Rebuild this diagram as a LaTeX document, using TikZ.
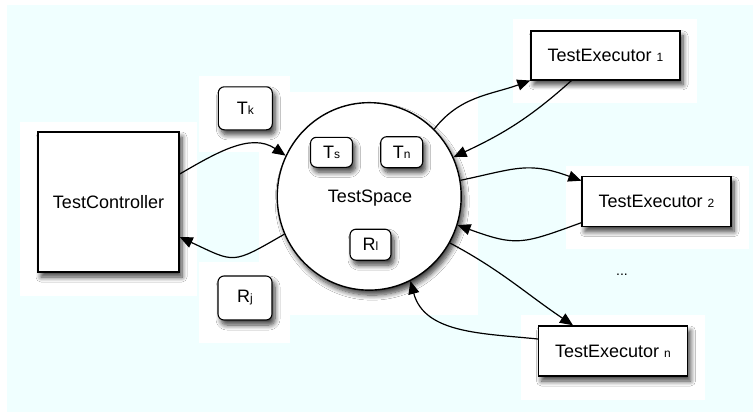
\documentclass[tikz,border=0pt]{standalone}
\usepackage{fontspec}
\setmainfont{Liberation Sans}
\usetikzlibrary{arrows.meta,shapes.geometric,shadows.blur}
\definecolor{bgcyan}{HTML}{F0FFFF}
\newcommand{\sub}[1]{{\fontsize{12}{12}\selectfont #1}}
\tikzset{
  shd/.style={blur shadow={shadow xshift=3pt,shadow yshift=-5pt,shadow blur steps=8,shadow blur radius=5pt,shadow opacity=75}},
  bigbox/.style={draw,line width=1.4pt,fill=white,rectangle,inner sep=0pt,shd},
  token/.style={draw,line width=1.1pt,fill=white,rectangle,rounded corners=6pt,inner sep=0pt,shd},
  conn/.style={line width=1.2pt,-{Triangle[length=13pt,width=11pt]}},
  patch/.style={fill=white,draw=none},
  lbl/.style={font=\fontsize{18}{18}\selectfont}
}
\begin{document}
\begin{tikzpicture}[x=1pt,y=-1pt]
\useasboundingbox (0,0) rectangle (753,413);
\fill[white] (0,0) rectangle (753,413);
\fill[bgcyan] (7,5) rectangle (753,412);
% white patches behind nodes
\fill[patch] (20,122) rectangle (197,296);
\fill[patch] (199,76) rectangle (290,152);
\fill[patch] (199,262) rectangle (290,343);
\fill[patch] (259,92) rectangle (478,315);
\fill[patch] (513,19) rectangle (697,103);
\fill[patch] (566,166) rectangle (749,249);
\fill[patch] (521,315) rectangle (705,400);

\node[bigbox,minimum width=141pt,minimum height=140pt,lbl] (TC) at (108.5,202) {TestController};
\node[ellipse,draw,line width=1.4pt,fill=white,inner sep=0pt,minimum width=184pt,minimum height=187.5pt,shd] (TS) at (369.2,196.4) {};
\node[lbl] (TSl) at (370,198.5) {TestSpace};

\node[token,minimum width=54pt,minimum height=43pt,lbl] (Tk) at (245.3,108.3) {T\sub{k}};
\node[token,minimum width=54pt,minimum height=44pt,lbl] (Rj) at (245,298) {R\sub{j}};
\node[token,minimum width=42pt,minimum height=30pt,lbl] (Ts) at (331.5,152.3) {T\sub{s}};
\node[token,minimum width=42pt,minimum height=31pt,lbl] (Tn) at (401.7,152.2) {T\sub{n}};
\node[token,minimum width=41pt,minimum height=31pt,lbl] (Rl) at (370.5,244.7) {R\sub{l}};

\node[bigbox,minimum width=149pt,minimum height=49pt,lbl] (E1) at (605.5,55.3) {TestExecutor \sub{1}};
\node[bigbox,minimum width=149pt,minimum height=50pt,lbl] (E2) at (656.5,201.7) {TestExecutor \sub{2}};
\node[bigbox,minimum width=149pt,minimum height=50pt,lbl] (En) at (613,351) {TestExecutor \sub{n}};
\node[font=\fontsize{14}{14}\selectfont] (dots) at (622,275) {...};

% connectors
\draw[conn] ([yshift=28pt]TC.east) to[out=30,in=146] (TS.154);
\draw[conn] (TS.204) to[out=210,in=-25,looseness=1.5] ([yshift=-35pt]TC.east);
\draw[conn] (TS.46) to[out=52,in=200] (E1.south west);
\draw[conn] ([xshift=-34pt]E1.south) to[out=222,in=25] (TS.25);
\draw[conn] (TS.10) to[out=12,in=160,looseness=1.2] ([yshift=21pt]E2.west);
\draw[conn] ([yshift=-21pt]E2.west) to[out=200,in=-20,looseness=1.3] (TS.-18);
\draw[conn] (TS.-30) to[out=-28,in=146] ([xshift=-40pt]En.north);
\draw[conn] ([yshift=12pt]En.west) to[out=174,in=-75] (TS.-64);
\end{tikzpicture}
\end{document}
